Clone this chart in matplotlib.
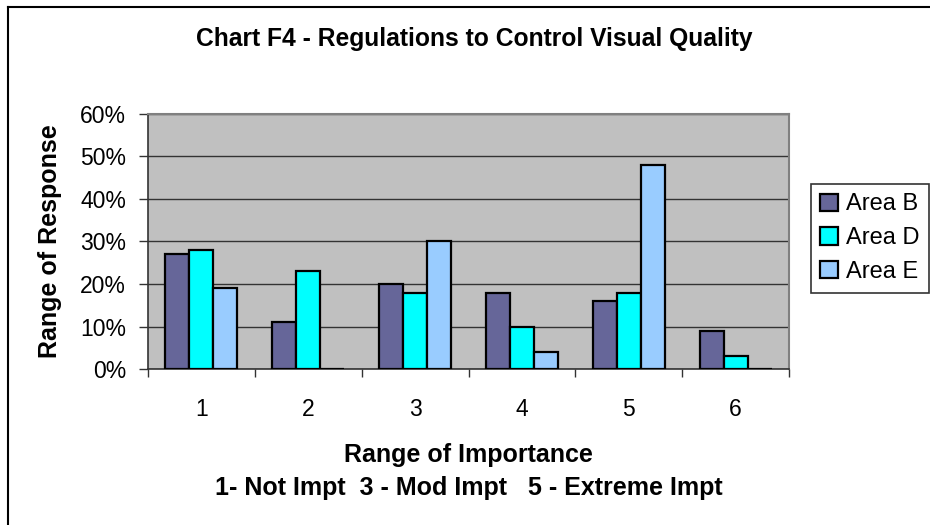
import matplotlib
matplotlib.use("Agg")
import matplotlib.pyplot as plt
import numpy as np
from matplotlib.lines import Line2D

categories = ["1", "2", "3", "4", "5", "6"]
area_b = [27, 11, 20, 18, 16, 9]
area_d = [28, 23, 18, 10, 18, 3]
area_e = [19, 0, 30, 4, 48, 0]
series_names = ["Area B", "Area D", "Area E"]
y_ticks = [0, 10, 20, 30, 40, 50, 60]
y_tick_labels = ["0%", "10%", "20%", "30%", "40%", "50%", "60%"]

plt.rcParams['font.family'] = ['Liberation Sans', 'DejaVu Sans']

W, H = 930, 525
fig = plt.figure(figsize=(9.3, 5.25), dpi=100)
fig.patch.set_facecolor("white")

# outer chart border (top and left visible; cropped on right/bottom)
fig.add_artist(Line2D([8 / W, 1.0], [1 - 7 / H, 1 - 7 / H], transform=fig.transFigure,
                      color="black", lw=1.5))
fig.add_artist(Line2D([8 / W, 8 / W], [0.0, 1 - 7 / H], transform=fig.transFigure,
                      color="black", lw=1.5))

left, right, top, bottom = 148, 789, 114, 369
ax = fig.add_axes([left / W, 1 - bottom / H, (right - left) / W, (bottom - top) / H])
ax.set_facecolor("#C0C0C0")

x = np.arange(len(categories))
w = 0.225
colors = ["#666699", "#00FFFF", "#99CCFF"]
for off, vals, col, name in zip([-w, 0, w], [area_b, area_d, area_e], colors, series_names):
    ax.bar(x + off, vals, width=w, color=col, edgecolor="black", linewidth=1.6,
           label=name, zorder=3)

ax.set_xlim(-0.5, len(categories) - 0.5)
ax.set_ylim(0, 60)
ax.set_yticks(y_ticks)
ax.set_yticklabels(y_tick_labels, fontsize=16.5)
ax.yaxis.grid(True, color="#333333", linewidth=1.0, zorder=1)
ax.set_axisbelow(True)

ax.set_xticks(x)
ax.set_xticklabels(categories, fontsize=16.5)
ax.set_xticks(np.arange(-0.5, len(categories)), minor=True)
ax.tick_params(axis="x", which="major", length=0, pad=21)
ax.tick_params(axis="x", which="minor", length=6, width=1, color="#333333", direction="out")
ax.tick_params(axis="y", length=6.5, width=1, color="#333333", direction="out", pad=9.3)

for s in ["top", "right"]:
    ax.spines[s].set_color("#808080")
    ax.spines[s].set_linewidth(1.5)
for s in ["left", "bottom"]:
    ax.spines[s].set_color("#333333")
    ax.spines[s].set_linewidth(1.2)

ax.set_ylabel("Range of Response", fontsize=18, fontweight="bold")
ax.yaxis.set_label_coords(-0.134, 0.5)
ax.set_xlabel("Range of Importance\n1- Not Impt  3 - Mod Impt   5 - Extreme Impt",
              fontsize=18, fontweight="bold", labelpad=16, linespacing=1.45)

fig.text(474 / W, 1 - 39 / H, "Chart F4 - Regulations to Control Visual Quality",
         ha="center", va="center", fontsize=17.7, fontweight="bold")

leg = ax.legend(loc="upper left", bbox_to_anchor=(811 / W, 1 - 184 / H),
                bbox_transform=fig.transFigure, fontsize=17, frameon=True,
                fancybox=False, shadow=False, borderaxespad=0, handlelength=0.75,
                handleheight=0.75, handletextpad=0.35, labelspacing=0.5,
                borderpad=0.4)
leg.get_frame().set_edgecolor("black")
leg.get_frame().set_linewidth(1.2)

fig.savefig("out.png", dpi=100)
